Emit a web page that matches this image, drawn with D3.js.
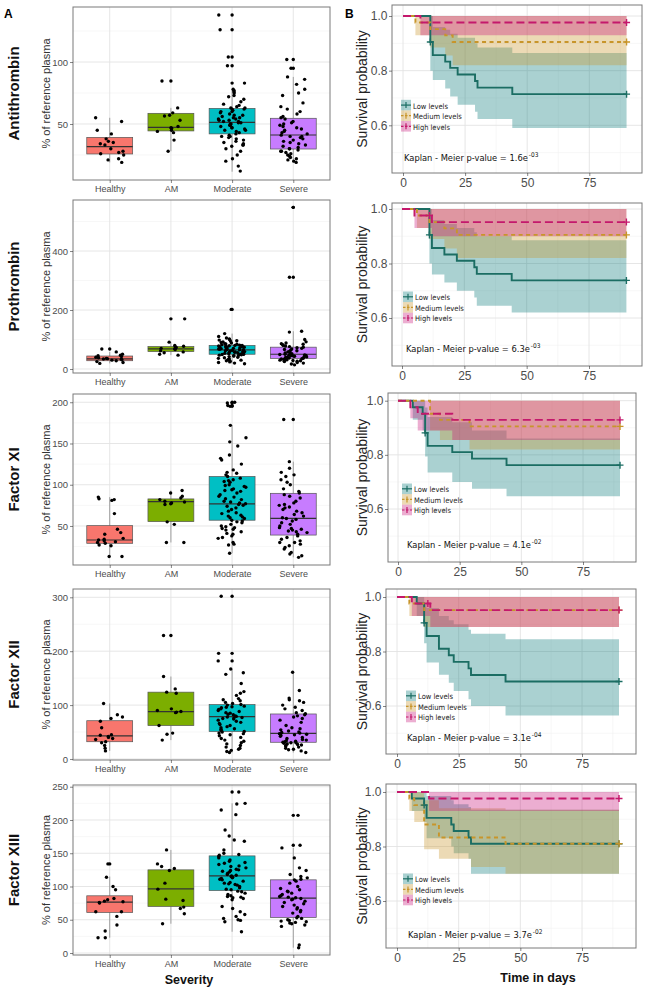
<!DOCTYPE html>
<html><head><meta charset="utf-8">
<script src="https://cdn.jsdelivr.net/npm/d3@7/dist/d3.min.js"></script>
<style>body{margin:0;background:#fff}svg{display:block}</style>
</head><body>
<svg id="c" width="649" height="992"></svg>
<script>
// ================= DATA =================
const categories = ["Healthy", "AM", "Moderate", "Severe"];
const factors = ["Antithrombin", "Prothrombin", "Factor XI", "Factor XII", "Factor XIII"];
const yTicks = [[50, 100], [0, 200, 400], [50, 100, 150, 200], [0, 100, 200, 300], [0, 50, 100, 150, 200, 250]];
const yMinor = [[25, 75, 125], [100, 300, 500], [25, 75, 125, 175], [50, 150, 250], [25, 75, 125, 175, 225]];
const yDomains = [[4.8, 144.4], [-13.6, 573], [2.7, 210], [-1.9, 315.4], [-3, 252.6]];

// box stats per category: [lower whisker, Q1, median, Q3, upper whisker]
const atBox = [[19, 25.8, 31.7, 39.2, 55], [28, 44.4, 47.3, 58.6, 63], [11.5, 42, 51.3, 62.6, 78], [19, 29.8, 41.1, 54.6, 88]];
const ptBox = [[19, 28, 34, 44, 58], [47, 59, 68, 76, 91], [18, 50, 65, 80, 120], [14, 36, 50, 74, 128]];
const f11Box = [[13, 29, 33, 50.4, 85], [30, 55.3, 79.5, 82.8, 93], [17, 57, 76.7, 110, 172], [12, 39, 59.3, 89.6, 128]];
const f12Box = [[15, 32, 43, 71, 103], [35, 62, 88, 124, 153], [12, 51, 78.5, 101, 167], [12, 31, 47.6, 83.5, 161]];
const f13Box = [[23, 61, 76.5, 86, 115], [44, 70, 96.5, 125, 155], [32, 94, 116, 146, 225], [8, 53.5, 82.5, 110, 158]];

// individual measurements (% of reference plasma)
const atPts = [
  [55, 52, 45, 42, 38, 36, 35, 34, 33, 30, 28, 27, 26, 25, 22, 21, 19],
  [84.7, 63, 59, 57, 56.5, 53, 48, 47, 46.5, 45, 44, 43, 37, 28],
  [138, 126, 104, 97, 83, 78, 77, 76, 75, 73, 72, 70, 68, 66, 65, 64, 63, 63, 62, 62, 61, 60, 60, 59, 58, 57, 57, 56, 55, 55, 54, 54, 53, 53, 52, 52, 51, 51, 50, 50, 49, 49, 48, 47, 47, 46, 45, 45, 44, 43, 42, 41, 40, 40, 39, 38, 37, 36, 35, 34, 33, 33, 32, 30, 28, 25, 22, 20, 16, 12],
  [102, 95, 88, 86, 82, 78, 75, 73, 67, 64, 62, 60, 58, 56, 55, 54, 52, 51, 50, 49, 48, 47, 46, 45, 44, 43, 42, 41, 40, 40, 39, 38, 37, 36, 35, 34, 33, 32, 31, 30, 30, 29, 28, 28, 27, 26, 25, 24, 23, 22, 21, 20, 19]
];
const ptPts = [
  [68, 58, 50, 47, 45, 42, 40, 38, 36, 35, 34, 33, 31, 30, 28, 25, 22, 19],
  [170, 91, 80, 77, 75, 73, 70, 68, 66, 62, 58, 55, 50, 47],
  [202, 120, 110, 105, 102, 100, 98, 96, 95, 92, 90, 88, 86, 85, 84, 82, 81, 80, 80, 79, 78, 77, 76, 75, 74, 73, 72, 71, 70, 69, 68, 67, 66, 65, 65, 64, 63, 62, 61, 60, 59, 58, 57, 56, 55, 54, 53, 52, 51, 50, 50, 49, 48, 47, 46, 45, 44, 42, 40, 38, 36, 34, 32, 30, 28, 26, 24, 22, 20, 18],
  [548, 311, 128, 125, 100, 92, 88, 86, 84, 82, 80, 78, 76, 74, 72, 70, 68, 66, 64, 62, 60, 58, 56, 54, 52, 50, 49, 48, 47, 46, 45, 44, 43, 42, 41, 40, 39, 38, 37, 36, 35, 34, 33, 32, 31, 30, 29, 28, 27, 26, 25, 22, 20, 17, 14]
];
const f11Pts = [
  [85, 83, 82, 81, 65, 46, 42, 40, 35, 34, 33, 32, 31, 30, 29, 27, 26, 13, 13],
  [93, 90, 86, 84, 82, 80, 79, 78, 77, 76, 55, 52, 30, 30],
  [200, 199, 196, 195, 172, 157, 152, 147, 136, 132, 130, 125, 118, 115, 114, 112, 110, 108, 106, 105, 104, 103, 100, 99, 98, 97, 95, 94, 93, 92, 90, 88, 86, 85, 83, 82, 80, 79, 78, 77, 76, 75, 74, 72, 70, 68, 66, 65, 63, 62, 61, 60, 59, 57, 56, 55, 54, 52, 50, 49, 48, 47, 46, 45, 43, 41, 40, 38, 36, 35, 30, 28, 27, 17],
  [179, 128, 120, 115, 112, 110, 106, 103, 100, 95, 92, 90, 88, 86, 84, 80, 78, 76, 75, 73, 72, 70, 68, 66, 64, 62, 60, 59, 58, 56, 54, 52, 50, 48, 47, 46, 45, 44, 43, 42, 40, 38, 36, 34, 32, 30, 30, 28, 26, 24, 22, 18, 16, 14, 12]
];
const f12Pts = [
  [103, 82, 78, 75, 70, 58, 45, 44, 42, 40, 38, 36, 32, 30, 25, 20, 15],
  [229, 153, 130, 124, 122, 93, 90, 88, 87, 86, 62, 48, 46, 35],
  [302, 196, 182, 167, 160, 157, 140, 125, 122, 118, 112, 110, 108, 105, 103, 101, 100, 98, 97, 96, 95, 93, 92, 90, 88, 86, 85, 83, 82, 80, 79, 78, 77, 76, 75, 74, 72, 70, 68, 66, 64, 62, 60, 58, 56, 55, 53, 51, 50, 48, 47, 45, 43, 40, 38, 35, 33, 30, 28, 25, 22, 20, 18, 16, 14, 12],
  [161, 127, 113, 110, 108, 105, 100, 96, 93, 90, 86, 84, 82, 80, 78, 75, 72, 68, 62, 58, 56, 54, 52, 50, 49, 48, 47, 46, 45, 44, 42, 40, 38, 36, 35, 34, 33, 32, 31, 30, 30, 29, 28, 27, 26, 25, 24, 22, 20, 18, 17, 15, 12]
];
const f13Pts = [
  [134, 114, 100, 95, 82, 80, 78, 77, 76, 75, 62, 62, 55, 42, 33, 23, 23],
  [155, 134, 130, 127, 124, 105, 96, 81, 79, 69, 67, 59, 44],
  [242, 225, 224, 215, 208, 185, 176, 170, 168, 155, 150, 148, 147, 145, 143, 140, 138, 136, 135, 133, 131, 130, 128, 126, 125, 124, 123, 122, 120, 118, 117, 116, 115, 114, 113, 112, 111, 110, 108, 106, 105, 104, 103, 102, 100, 98, 96, 95, 93, 92, 90, 88, 86, 85, 84, 83, 82, 80, 70, 67, 62, 58, 55, 52, 50, 49, 47, 32],
  [207, 162, 158, 143, 128, 124, 118, 115, 113, 111, 110, 108, 105, 100, 97, 95, 93, 92, 90, 88, 86, 85, 84, 83, 82, 81, 80, 78, 76, 74, 72, 70, 68, 66, 64, 62, 60, 55, 53, 52, 50, 49, 48, 47, 46, 45, 44, 42, 40, 12, 8]
];

// Kaplan-Meier: event times, survival, CI lower/upper, censor marks [time, surv]
const kmGroups = ["Low levels", "Medium levels", "High levels"];
const kmEnd = 90;
const kmXTicks = [0, 25, 50, 75];
const kmXMinor = [12.5, 37.5, 62.5, 87.5];
const kmYTicks = [0.6, 0.8, 1.0];
const kmYMinor = [0.5, 0.7, 0.9];

const atLow = {t: [0, 11, 12, 17, 19, 22, 29, 30, 44], s: [1, 0.905, 0.857, 0.833, 0.81, 0.786, 0.762, 0.738, 0.714], lo: [1, 0.80, 0.766, 0.735, 0.705, 0.675, 0.65, 0.623, 0.59], hi: [1, 1, 0.96, 0.95, 0.935, 0.92, 0.90, 0.885, 0.865], cens: [[11, 0.905], [90, 0.714]]};
const atMed = {t: [0, 5, 11, 17, 20], s: [1, 0.976, 0.952, 0.929, 0.905], lo: [1, 0.93, 0.885, 0.855, 0.82], hi: [1, 1, 1, 1, 1], cens: [[90, 0.905]]};
const atHigh = {t: [0, 7], s: [1, 0.976], lo: [1, 0.93], hi: [1, 1], cens: [[90, 0.976]]};

const ptLow = {t: [0, 11, 12, 17, 22, 29, 30, 44], s: [1, 0.905, 0.857, 0.833, 0.81, 0.786, 0.762, 0.738], lo: [1, 0.80, 0.76, 0.73, 0.70, 0.675, 0.645, 0.62], hi: [1, 1, 0.96, 0.945, 0.93, 0.915, 0.90, 0.885], cens: [[11, 0.905], [90, 0.738]]};
const ptMed = {t: [0, 6, 11, 17, 22], s: [1, 0.976, 0.952, 0.929, 0.905], lo: [1, 0.93, 0.89, 0.855, 0.82], hi: [1, 1, 1, 1, 1], cens: [[90, 0.905]]};
const ptHigh = {t: [0, 5, 12], s: [1, 0.976, 0.952], lo: [1, 0.93, 0.90], hi: [1, 1, 1], cens: [[11, 0.976], [90, 0.952]]};

const f11Low = {t: [0, 6, 10, 11, 12, 22, 30, 44], s: [1, 0.976, 0.952, 0.881, 0.833, 0.81, 0.786, 0.762], lo: [1, 0.93, 0.89, 0.794, 0.735, 0.70, 0.675, 0.647], hi: [1, 1, 1, 0.975, 0.94, 0.92, 0.89, 0.86], cens: [[11, 0.881], [90, 0.762]]};
const f11Med = {t: [0, 13, 17, 29], s: [1, 0.952, 0.929, 0.905], lo: [1, 0.89, 0.855, 0.82], hi: [1, 1, 1, 1], cens: [[90, 0.905]]};
const f11High = {t: [0, 5, 8, 22], s: [1, 0.976, 0.952, 0.929], lo: [1, 0.935, 0.89, 0.855], hi: [1, 1, 1, 1], cens: [[90, 0.929]]};

const f12Low = {t: [0, 8, 11, 12, 17, 21, 23, 29, 30, 44], s: [1, 0.976, 0.905, 0.857, 0.81, 0.786, 0.762, 0.738, 0.714, 0.69], lo: [1, 0.93, 0.83, 0.76, 0.715, 0.685, 0.655, 0.625, 0.60, 0.565], hi: [1, 1, 0.98, 0.96, 0.93, 0.915, 0.90, 0.88, 0.865, 0.845], cens: [[11, 0.905], [90, 0.69]]};
const f12Med = {t: [0, 5, 11], s: [1, 0.976, 0.952], lo: [1, 0.93, 0.89], hi: [1, 1, 1], cens: [[90, 0.952]]};
const f12High = {t: [0, 6, 13.5], s: [1, 0.976, 0.952], lo: [1, 0.93, 0.89], hi: [1, 1, 1], cens: [[12.5, 0.976], [90, 0.952]]};

const f13Low = {t: [0, 6, 11, 12, 22, 23, 29, 30], s: [1, 0.976, 0.952, 0.905, 0.881, 0.857, 0.833, 0.81], lo: [1, 0.93, 0.89, 0.83, 0.80, 0.775, 0.755, 0.70], hi: [1, 1, 1, 0.985, 0.97, 0.955, 0.945, 0.935], cens: [[11, 0.952], [90, 0.81]]};
const f13Med = {t: [0, 5, 7, 11, 17, 30, 44], s: [1, 0.976, 0.952, 0.881, 0.833, 0.833, 0.81], lo: [1, 0.93, 0.89, 0.79, 0.755, 0.725, 0.70], hi: [1, 1, 1, 0.97, 0.94, 0.94, 0.935], cens: [[90, 0.81]]};
const f13High = {t: [0, 13], s: [1, 0.976], lo: [1, 0.93], hi: [1, 1], cens: [[90, 0.976]]};

const pMantissa = ["1.6", "6.3", "4.1", "3.1", "3.7"];
const pExponent = ["-03", "-03", "-02", "-04", "-02"];

// ================= ASSEMBLY =================
const boxSets = [atBox, ptBox, f11Box, f12Box, f13Box];
const pointSets = [atPts, ptPts, f11Pts, f12Pts, f13Pts];
const kmSets = [[atLow, atMed, atHigh], [ptLow, ptMed, ptHigh], [f11Low, f11Med, f11High], [f12Low, f12Med, f12High], [f13Low, f13Med, f13High]];

const boxColors = ["#F8766D", "#7CAE00", "#00BFC4", "#C77CFF"];
const kmLine = ["#1b6d63", "#c8952a", "#c4186c"];
const kmFill = ["#0b7a7a", "#c8952a", "#c8187a"];
const kmDash = [null, "4,3.5", "8,4"];

const FONT = "'Liberation Sans', Arial, sans-serif";
const NARROW = "'Liberation Sans Narrow', 'DejaVu Sans Condensed', Lato, 'Liberation Sans', sans-serif";
const svg = d3.select("#c");

// layout
const leftL = 73, leftR = 330;
const leftRows = [[7, 180], [200, 373], [394, 565], [589, 760], [785, 955]];
const kmLay = [
  {l: 392, r: 642, t: 5, b: 173, d0: 403, d75: 589.3, y1: 16, y6: 125.3, lgx: -2, lgy: 1, pv: 12, px: 1},
  {l: 392, r: 642, t: 203, b: 366, d0: 402, d75: 589, y1: 209, y6: 318, lgx: 1, lgy: 0, pv: 14, px: 4},
  {l: 388, r: 636, t: 393, b: 562, d0: 398, d75: 583, y1: 400.7, y6: 509, lgx: 4, lgy: 1, pv: 14, px: 9},
  {l: 386, r: 636, t: 589, b: 754, d0: 397, d75: 582, y1: 597, y6: 706, lgx: 9, lgy: 11, pv: 13, px: 10},
  {l: 386, r: 636, t: 784, b: 948, d0: 397, d75: 582, y1: 792, y6: 901, lgx: 6, lgy: -1, pv: 10, px: 11}
];

function styleAxis(g, fs) {
  g.select(".domain").remove();
  g.selectAll(".tick line").attr("stroke", "#333").attr("stroke-width", 0.6);
  g.selectAll(".tick text").attr("fill", "#4d4d4d").attr("font-size", fs).attr("font-family", FONT);
}
// size a text so its natural width matches a target width
function fitText(sel, base, target) {
  sel.attr("font-size", base);
  const w = sel.node().getComputedTextLength();
  const fs = w > 0 ? base * target / w : base;
  sel.attr("font-size", fs);
  return sel.node().getComputedTextLength();
}
// deterministic horizontal jitter in [-1, 1] (layout only)
function jit(i, k, j) {
  const v = Math.sin(j * 12.9898 + k * 78.233 + i * 37.719) * 43758.5453;
  return (v - Math.floor(v)) * 2 - 1;
}

// ---------- left boxplots ----------
const xCat = d3.scalePoint().domain(categories).range([leftL, leftR]).padding(0.6);
const step = xCat.step();
const boxW = step * 0.75;

factors.forEach((f, i) => {
  const [top, bot] = leftRows[i];
  const y = d3.scaleLinear().domain(yDomains[i]).range([bot, top]);
  const g = svg.append("g");
  g.append("rect").attr("x", leftL).attr("y", top).attr("width", leftR - leftL).attr("height", bot - top).attr("fill", "#fff");
  g.selectAll(null).data(yMinor[i]).join("line")
    .attr("x1", leftL).attr("x2", leftR).attr("y1", d => y(d)).attr("y2", d => y(d))
    .attr("stroke", "#f2f2f2").attr("stroke-width", 0.6);
  g.selectAll(null).data(yTicks[i]).join("line")
    .attr("x1", leftL).attr("x2", leftR).attr("y1", d => y(d)).attr("y2", d => y(d))
    .attr("stroke", "#e3e3e3").attr("stroke-width", 0.9);
  g.selectAll(null).data(categories).join("line")
    .attr("x1", d => xCat(d)).attr("x2", d => xCat(d)).attr("y1", top).attr("y2", bot)
    .attr("stroke", "#e3e3e3").attr("stroke-width", 0.9);

  const stats = boxSets[i], pts = pointSets[i];
  categories.forEach((c, k) => {
    const [lw, q1, md, q3, uw] = stats[k];
    const cx = xCat(c);
    g.append("line").attr("x1", cx).attr("x2", cx).attr("y1", y(q3)).attr("y2", y(uw)).attr("stroke", "#8c8c8c").attr("stroke-width", 0.8);
    g.append("line").attr("x1", cx).attr("x2", cx).attr("y1", y(q1)).attr("y2", y(lw)).attr("stroke", "#8c8c8c").attr("stroke-width", 0.8);
    g.append("rect").attr("x", cx - boxW / 2).attr("y", y(q3)).attr("width", boxW).attr("height", y(q1) - y(q3))
      .attr("fill", boxColors[k]).attr("stroke", "#555").attr("stroke-width", 0.7);
    g.append("line").attr("x1", cx - boxW / 2).attr("x2", cx + boxW / 2).attr("y1", y(md)).attr("y2", y(md))
      .attr("stroke", "#333").attr("stroke-width", 1.2);
    // outliers (drawn at the box centre)
    g.selectAll(null).data(pts[k].filter(v => v > uw || v < lw)).join("circle")
      .attr("cx", cx).attr("cy", d => y(d)).attr("r", 1.7).attr("fill", "#000");
  });
  // jittered points
  categories.forEach((c, k) => {
    const cx = xCat(c);
    g.selectAll(null).data(pts[k]).join("circle")
      .attr("cx", (d, j) => cx + jit(i, k, j) * step * 0.23)
      .attr("cy", d => y(d)).attr("r", 1.7).attr("fill", "#000");
  });
  g.append("rect").attr("x", leftL).attr("y", top).attr("width", leftR - leftL).attr("height", bot - top)
    .attr("fill", "none").attr("stroke", "#7a7a7a").attr("stroke-width", 1);

  const ay = g.append("g").attr("transform", `translate(${leftL},0)`)
    .call(d3.axisLeft(y).tickValues(yTicks[i]).tickSize(3).tickPadding(2));
  styleAxis(ay, 9.5);
  const ax = g.append("g").attr("transform", `translate(0,${bot})`)
    .call(d3.axisBottom(xCat).tickSize(3).tickPadding(2.5));
  styleAxis(ax, 9);

  const cy = (top + bot) / 2;
  g.append("text").attr("transform", `translate(18.5,${cy}) rotate(-90)`).attr("text-anchor", "middle")
    .attr("font-family", FONT).attr("font-weight", "bold").attr("font-size", 15).attr("fill", "#111").text(f);
  g.append("text").attr("transform", `translate(50,${cy}) rotate(-90)`).attr("text-anchor", "middle")
    .attr("font-family", FONT).attr("font-size", 11).attr("fill", "#333").text("% of reference plasma");
});

// ---------- right Kaplan-Meier ----------
kmSets.forEach((sets, i) => {
  const L = kmLay[i];
  const x = d3.scaleLinear().domain([0, 75]).range([L.d0, L.d75]);
  const y = d3.scaleLinear().domain([0.6, 1.0]).range([L.y6, L.y1]);
  const g = svg.append("g");
  const cid = "clip" + i;
  g.append("clipPath").attr("id", cid).append("rect").attr("x", L.l).attr("y", L.t).attr("width", L.r - L.l).attr("height", L.b - L.t);
  g.append("rect").attr("x", L.l).attr("y", L.t).attr("width", L.r - L.l).attr("height", L.b - L.t).attr("fill", "#fff");
  const grid = g.append("g").attr("clip-path", `url(#${cid})`);
  grid.selectAll(null).data(kmYMinor).join("line").attr("x1", L.l).attr("x2", L.r).attr("y1", d => y(d)).attr("y2", d => y(d)).attr("stroke", "#f2f2f2").attr("stroke-width", 0.6);
  grid.selectAll(null).data(kmXMinor).join("line").attr("y1", L.t).attr("y2", L.b).attr("x1", d => x(d)).attr("x2", d => x(d)).attr("stroke", "#f2f2f2").attr("stroke-width", 0.6);
  grid.selectAll(null).data(kmYTicks).join("line").attr("x1", L.l).attr("x2", L.r).attr("y1", d => y(d)).attr("y2", d => y(d)).attr("stroke", "#e3e3e3").attr("stroke-width", 0.9);
  grid.selectAll(null).data(kmXTicks).join("line").attr("y1", L.t).attr("y2", L.b).attr("x1", d => x(d)).attr("x2", d => x(d)).attr("stroke", "#e3e3e3").attr("stroke-width", 0.9);

  const plot = g.append("g").attr("clip-path", `url(#${cid})`);
  const series = sets.map(o => {
    const arr = o.t.map((t, j) => ({t, s: o.s[j], lo: o.lo[j], hi: o.hi[j]}));
    const last = arr[arr.length - 1];
    arr.push({t: kmEnd, s: last.s, lo: last.lo, hi: last.hi});
    return arr;
  });
  const area = d3.area().x(d => x(d.t)).y0(d => y(d.lo)).y1(d => y(d.hi)).curve(d3.curveStepAfter);
  const line = d3.line().x(d => x(d.t)).y(d => y(d.s)).curve(d3.curveStepAfter);
  series.forEach((s, k) => {
    plot.append("path").attr("d", area(s)).attr("fill", kmFill[k]).attr("fill-opacity", 0.35).attr("stroke", "none");
  });
  series.forEach((s, k) => {
    plot.append("path").attr("d", line(s)).attr("fill", "none").attr("stroke", kmLine[k]).attr("stroke-width", 1.9)
      .attr("stroke-dasharray", kmDash[k]);
  });
  sets.forEach((o, k) => {
    plot.selectAll(null).data(o.cens).join("path")
      .attr("d", d => `M${x(d[0]) - 3.5},${y(d[1])}h7M${x(d[0])},${y(d[1]) - 3.5}v7`)
      .attr("stroke", kmLine[k]).attr("stroke-width", 1.4).attr("fill", "none");
  });

  // legend
  const lgTextW = [35, 49, 37];
  kmGroups.forEach((name, k) => {
    const cy = y(0.6) + L.lgy + (k - 2) * 10.6;
    const kx = L.d0 + L.lgx;
    const kg = g.append("g");
    kg.append("rect").attr("x", kx).attr("y", cy - 5.3).attr("width", 10).attr("height", 10.6).attr("fill", kmFill[k]).attr("fill-opacity", 0.35);
    kg.append("line").attr("x1", kx).attr("x2", kx + 10).attr("y1", cy).attr("y2", cy).attr("stroke", kmLine[k]).attr("stroke-width", 1.2)
      .attr("stroke-dasharray", k === 0 ? null : "2.5,1.5");
    kg.append("path").attr("d", `M${kx + 5},${cy - 3}v6`).attr("stroke", kmLine[k]).attr("stroke-width", 1.2);
    const lt = kg.append("text").attr("x", kx + 12).attr("y", cy + 3.4).attr("font-family", NARROW)
      .attr("fill", "#222").text(name);
    fitText(lt, 10, lgTextW[k]);
  });

  // p-value: main text fitted to width, exponent as separate superscript text after it
  const px = L.d0 + L.px, py = L.b - L.pv;
  const pt = g.append("text").attr("x", px).attr("y", py).attr("font-family", NARROW).attr("fill", "#111")
    .text(`Kaplan - Meier p-value = ${pMantissa[i]}e`);
  const pw = fitText(pt, 11.5, 124);
  g.append("text").attr("x", px + pw + 1).attr("y", py - 4.5).attr("font-family", NARROW).attr("font-size", 6.5)
    .attr("fill", "#111").text(pExponent[i]);

  g.append("rect").attr("x", L.l).attr("y", L.t).attr("width", L.r - L.l).attr("height", L.b - L.t)
    .attr("fill", "none").attr("stroke", "#7a7a7a").attr("stroke-width", 1);

  const ay = g.append("g").attr("transform", `translate(${L.l},0)`)
    .call(d3.axisLeft(y).tickValues(kmYTicks).tickFormat(d3.format(".1f")).tickSize(3).tickPadding(1.5));
  styleAxis(ay, 12);
  const ax = g.append("g").attr("transform", `translate(0,${L.b})`)
    .call(d3.axisBottom(x).tickValues(kmXTicks).tickSize(3).tickPadding(2));
  styleAxis(ax, 12);

  g.append("text").attr("transform", `translate(367,${(L.t + L.b) / 2}) rotate(-90)`).attr("text-anchor", "middle")
    .attr("font-family", FONT).attr("font-size", 14).attr("fill", "#222").text("Survival probability");
});

// panel letters and axis titles
svg.append("text").attr("x", 4).attr("y", 18).attr("font-family", FONT).attr("font-weight", "bold").attr("font-size", 12).text("A");
svg.append("text").attr("x", 345).attr("y", 18).attr("font-family", FONT).attr("font-weight", "bold").attr("font-size", 12).text("B");
svg.append("text").attr("x", 189).attr("y", 984).attr("text-anchor", "middle").attr("font-family", FONT).attr("font-weight", "bold")
  .attr("font-size", 12.5).attr("fill", "#111").text("Severity");
svg.append("text").attr("x", 538).attr("y", 982).attr("text-anchor", "middle").attr("font-family", FONT).attr("font-weight", "bold")
  .attr("font-size", 12.5).attr("fill", "#111").text("Time in days");
</script>
</body></html>
